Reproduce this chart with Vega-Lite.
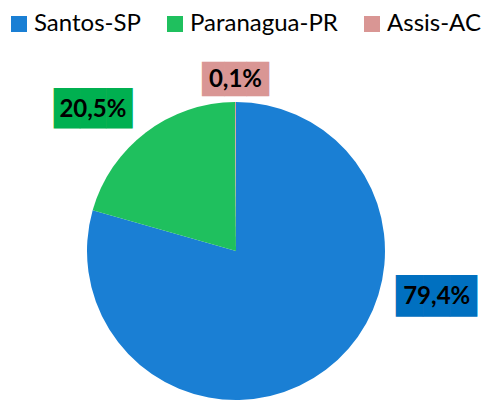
{
  "$schema": "https://vega.github.io/schema/vega-lite/v6.json",
  "width": 472,
  "height": 298,
  "autosize": {"type": "none"},
  "padding": {"left": 0, "top": 102, "right": 13, "bottom": 1},
  "background": "white",
  "config": {"view": {"stroke": null}, "font": "Lato"},
  "data": {
    "values": [
      {"porto": "Santos-SP", "pct": 79.4, "label": "79,4%"},
      {"porto": "Paranagua-PR", "pct": 20.5, "label": "20,5%"},
      {"porto": "Assis-AC", "pct": 0.1, "label": "0,1%"}
    ]
  },
  "encoding": {
    "theta": {"field": "pct", "type": "quantitative", "stack": true},
    "order": {"field": "pct", "type": "quantitative", "sort": "descending"}
  },
  "layer": [
    {
      "mark": {"type": "arc"},
      "encoding": {
        "color": {
          "field": "porto",
          "type": "nominal",
          "scale": {
            "domain": ["Santos-SP", "Paranagua-PR", "Assis-AC"],
            "range": ["#1a7fd4", "#1fc05e", "#d99694"]
          },
          "legend": {
            "title": null,
            "orient": "none",
            "legendX": 7,
            "legendY": -90,
            "direction": "horizontal",
            "symbolType": "square",
            "symbolSize": 256,
            "symbolStrokeWidth": 0,
            "symbolOpacity": 1,
            "labelFont": "Lato",
            "labelFontSize": 24,
            "labelColor": "black",
            "labelOffset": 3,
            "columnPadding": 22,
            "padding": 0
          }
        }
      }
    },
    {
      "mark": {"type": "text", "font": "DejaVu Sans", "fontSize": 35, "color": "#0070C0", "baseline": "middle", "align": "center", "radius": 206, "thetaOffset": -0.696},
      "encoding": {"text": {"condition": {"test": "datum.porto === 'Santos-SP'", "value": "███"}, "value": ""}}
    },
    {
      "mark": {"type": "text", "font": "Lato", "fontWeight": "bold", "fontSize": 24, "color": "black", "baseline": "middle", "align": "center", "radius": 206, "thetaOffset": -0.696},
      "encoding": {"text": {"condition": {"test": "datum.porto === 'Santos-SP'", "field": "label"}, "value": ""}}
    },
    {
      "mark": {"type": "text", "font": "DejaVu Sans", "fontSize": 34, "color": "#00B050", "baseline": "middle", "align": "center", "radius": 201, "thetaOffset": -0.142},
      "encoding": {"text": {"condition": {"test": "datum.porto === 'Paranagua-PR'", "value": "███"}, "value": ""}}
    },
    {
      "mark": {"type": "text", "font": "Lato", "fontWeight": "bold", "fontSize": 24, "color": "black", "baseline": "middle", "align": "center", "radius": 201, "thetaOffset": -0.142},
      "encoding": {"text": {"condition": {"test": "datum.porto === 'Paranagua-PR'", "field": "label"}, "value": ""}}
    },
    {
      "mark": {"type": "text", "font": "DejaVu Sans", "fontSize": 29, "color": "#D99694", "baseline": "middle", "align": "center", "radius": 171, "thetaOffset": 0},
      "encoding": {"text": {"condition": {"test": "datum.porto === 'Assis-AC'", "value": "███"}, "value": ""}}
    },
    {
      "mark": {"type": "text", "font": "Lato", "fontWeight": "bold", "fontSize": 24, "color": "black", "baseline": "middle", "align": "center", "radius": 171, "thetaOffset": 0},
      "encoding": {"text": {"condition": {"test": "datum.porto === 'Assis-AC'", "field": "label"}, "value": ""}}
    }
  ]
}
